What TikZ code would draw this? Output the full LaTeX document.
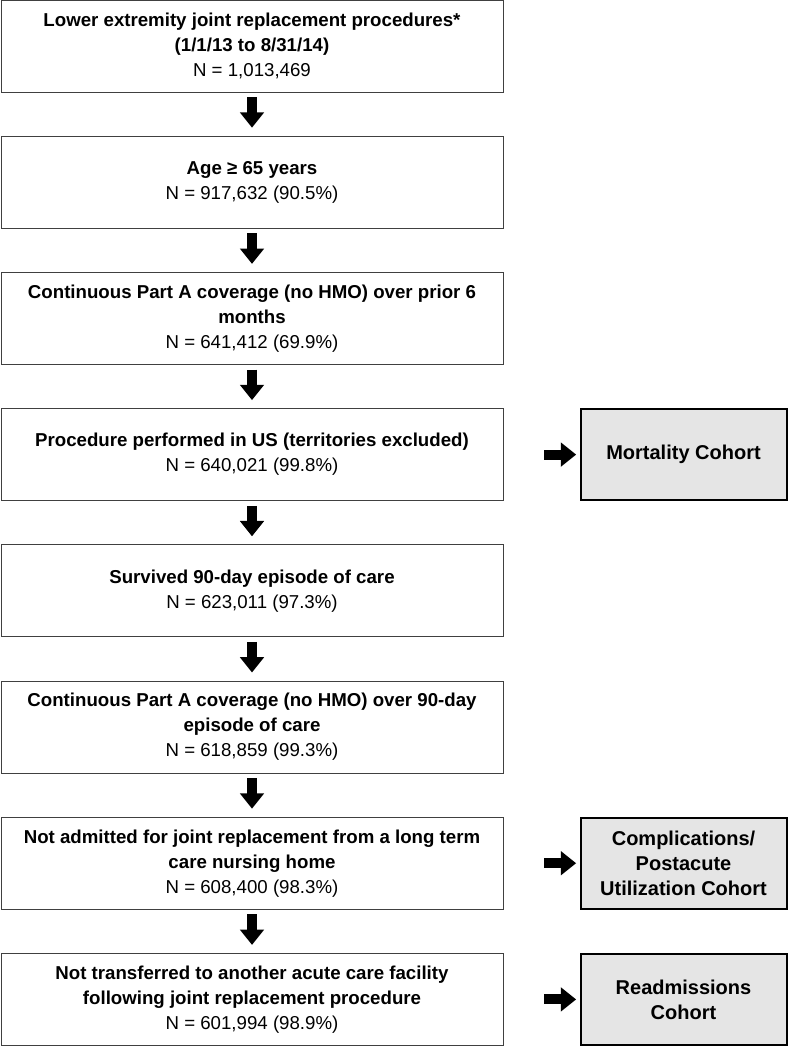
\documentclass[tikz,border=0pt]{standalone}
\usepackage{fontspec}
\setmainfont{Liberation Sans}
\usetikzlibrary{positioning,arrows.meta}

\begin{document}
\begin{tikzpicture}[node distance = 32.4pt, auto]
    \tikzset{
        stepbox/.style = {draw = black!75, line width = 0.75pt, minimum width = 376.5pt, minimum height = 69pt,
                          align = center, inner sep = 2pt, font = \fontsize{14pt}{18.75pt}\selectfont},
        cohort/.style  = {draw = black, line width = 1.5pt, fill = black!10, minimum width = 154.5pt, minimum height = 68.5pt,
                          align = center, inner sep = 2pt, font = \fontsize{15pt}{18.75pt}\selectfont\bfseries},
        bigarrow/.style = {line width = 7.5pt, -{Triangle[width = 17.5pt, length = 11.5pt]}}
    }

    \useasboundingbox (0,0) rectangle (592.5pt,-787.5pt);

    \node[stepbox] (Proc) at (189pt,-34.5pt) {\textbf{Lower extremity joint replacement procedures*}\\\textbf{(1/1/13 to 8/31/14)}\\N = 1,013,469};
    \node[stepbox, below = of Proc] (Age) {\textbf{Age ≥ 65 years}\\N = 917,632 (90.5\%)};
    \node[stepbox, below = of Age] (PartA) {\textbf{Continuous Part A coverage (no HMO) over prior 6}\\\textbf{months}\\N = 641,412 (69.9\%)};
    \node[stepbox, below = of PartA] (US) {\textbf{Procedure performed in US (territories excluded)}\\N = 640,021 (99.8\%)};
    \node[stepbox, below = of US] (Surv) {\textbf{Survived 90-day episode of care}\\N = 623,011 (97.3\%)};
    \node[stepbox, below = of Surv] (Episode) {\textbf{Continuous Part A coverage (no HMO) over 90-day}\\\textbf{episode of care}\\N = 618,859 (99.3\%)};
    \node[stepbox, below = of Episode] (NH) {\textbf{Not admitted for joint replacement from a long term}\\\textbf{care nursing home}\\N = 608,400 (98.3\%)};
    \node[stepbox, below = of NH] (Trans) {\textbf{Not transferred to another acute care facility}\\\textbf{following joint replacement procedure}\\N = 601,994 (98.9\%)};

    % cohorts on the right
    \node[cohort, right = 57pt of US] (Mort) {Mortality Cohort};
    \node[cohort, right = 57pt of NH] (Compl) {Complications/\\Postacute\\Utilization Cohort};
    \node[cohort, right = 57pt of Trans] (Readm) {Readmissions\\Cohort};

    \foreach \a/\b in {Proc/Age, Age/PartA, PartA/US, US/Surv, Surv/Episode, Episode/NH, NH/Trans}
        \draw[bigarrow, shorten < = 3.5pt, shorten > = 6pt] (\a.south) -- (\b.north);

    \foreach \a/\b in {US/Mort, NH/Compl, Trans/Readm}
        \draw[bigarrow, shorten < = 30.5pt, shorten > = 2.5pt] (\a.east) -- (\b.west);
\end{tikzpicture}
\end{document}
